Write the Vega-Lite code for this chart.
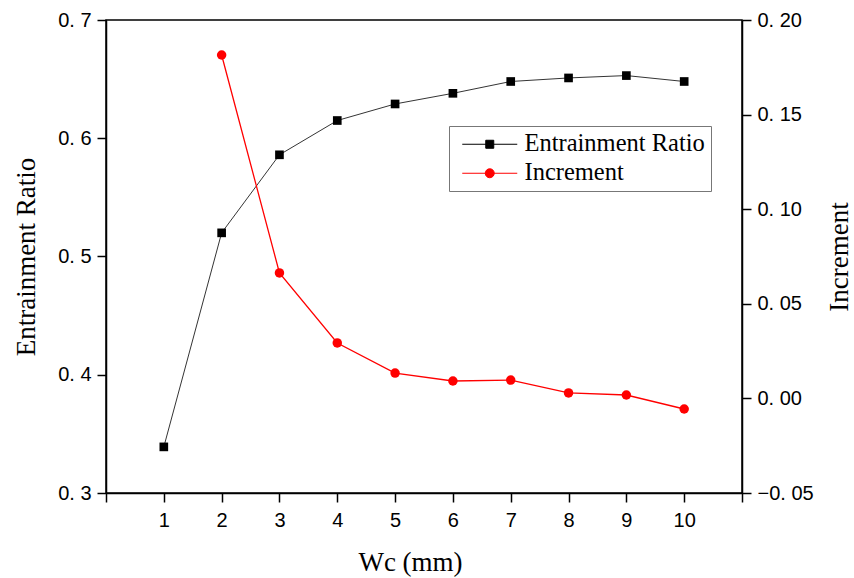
{
  "$schema": "https://vega.github.io/schema/vega-lite/v6.json",
  "width": 636,
  "height": 473,
  "autosize": {"type": "none"},
  "padding": {"left": 106, "top": 20, "right": 112, "bottom": 85},
  "background": "white",
  "config": {
    "view": {"stroke": "black", "strokeWidth": 1.5},
    "axis": {
      "grid": false,
      "domainColor": "black",
      "domainWidth": 1.5,
      "tickColor": "black",
      "tickWidth": 1.5,
      "tickSize": 9,
      "labelFont": "Liberation Sans",
      "labelFontSize": 20,
      "labelColor": "black",
      "titleFont": "Liberation Serif",
      "titleFontSize": 27,
      "titleFontWeight": "normal",
      "titleColor": "black"
    }
  },
  "data": {
    "values": [
      {"Wc": 1, "series": "Entrainment Ratio", "value": 0.339},
      {"Wc": 2, "series": "Entrainment Ratio", "value": 0.520},
      {"Wc": 3, "series": "Entrainment Ratio", "value": 0.586},
      {"Wc": 4, "series": "Entrainment Ratio", "value": 0.615},
      {"Wc": 5, "series": "Entrainment Ratio", "value": 0.629},
      {"Wc": 6, "series": "Entrainment Ratio", "value": 0.638},
      {"Wc": 7, "series": "Entrainment Ratio", "value": 0.648},
      {"Wc": 8, "series": "Entrainment Ratio", "value": 0.651},
      {"Wc": 9, "series": "Entrainment Ratio", "value": 0.653},
      {"Wc": 10, "series": "Entrainment Ratio", "value": 0.648},
      {"Wc": 2, "series": "Increment", "value": 0.1815},
      {"Wc": 3, "series": "Increment", "value": 0.0663},
      {"Wc": 4, "series": "Increment", "value": 0.0293},
      {"Wc": 5, "series": "Increment", "value": 0.0134},
      {"Wc": 6, "series": "Increment", "value": 0.0092},
      {"Wc": 7, "series": "Increment", "value": 0.0097},
      {"Wc": 8, "series": "Increment", "value": 0.0029},
      {"Wc": 9, "series": "Increment", "value": 0.0018},
      {"Wc": 10, "series": "Increment", "value": -0.0056}
    ]
  },
  "encoding": {
    "x": {
      "field": "Wc",
      "type": "quantitative",
      "scale": {"domain": [0, 11], "nice": false},
      "axis": {
        "title": "Wc (mm)",
        "values": [0, 1, 2, 3, 4, 5, 6, 7, 8, 9, 10, 11],
        "labelExpr": "datum.value >= 1 && datum.value <= 10 ? datum.label : ''",
        "labelPadding": 8,
        "titlePadding": 19,
        "titleX": 304
      }
    },
    "color": {
      "field": "series",
      "type": "nominal",
      "scale": {"domain": ["Entrainment Ratio", "Increment"], "range": ["black", "#ff0000"]},
      "legend": {
        "title": null,
        "orient": "none",
        "legendX": 343,
        "legendY": 106,
        "strokeColor": "#777777",
        "fillColor": "white",
        "padding": 6,
        "labelFont": "Liberation Serif",
        "labelFontSize": 24.5,
        "labelColor": "black",
        "labelOffset": 45,
        "labelLimit": 0,
        "rowPadding": 4,
        "symbolSize": 100,
        "symbolStrokeWidth": 1,
        "symbolOpacity": 1,
        "encode": {
          "legend": {"update": {"strokeWidth": {"value": 1}}},
          "symbols": {
            "update": {
              "shape": {"signal": "datum.value === 'Increment' ? 'M-1,0H10M3.6,0A0.9,0.9,0,1,1,5.4,0A0.9,0.9,0,1,1,3.6,0Z' : 'M-1,0H10M3.7,-0.8H5.3V0.8H3.7Z'"},
              "fill": {"signal": "datum.value === 'Increment' ? '#ff0000' : 'black'"},
              "stroke": {"signal": "datum.value === 'Increment' ? '#ff0000' : 'black'"}
            }
          }
        }
      }
    }
  },
  "layer": [
    {
      "transform": [{"filter": "datum.series === 'Entrainment Ratio'"}],
      "encoding": {
        "y": {
          "field": "value",
          "type": "quantitative",
          "scale": {"domain": [0.3, 0.7], "nice": false, "zero": false},
          "axis": {
            "title": "Entrainment Ratio",
            "orient": "left",
            "values": [0.3, 0.4, 0.5, 0.6, 0.7],
            "labelExpr": "replace(format(datum.value, '.1f'), '.', '. ')",
            "labelPadding": 6,
            "titlePadding": 17
          }
        }
      },
      "layer": [
        {"mark": {"type": "line", "strokeWidth": 0.8}},
        {"mark": {"type": "point", "shape": "square", "filled": true, "size": 75, "opacity": 1}}
      ]
    },
    {
      "transform": [{"filter": "datum.series === 'Increment'"}],
      "encoding": {
        "y": {
          "field": "value",
          "type": "quantitative",
          "scale": {"domain": [-0.05, 0.2], "nice": false, "zero": false},
          "axis": {
            "title": "Increment",
            "orient": "right",
            "titleAngle": 270,
            "values": [-0.05, 0, 0.05, 0.1, 0.15, 0.2],
            "labelExpr": "replace(format(datum.value, '.2f'), '.', '. ')",
            "labelPadding": 6,
            "titlePadding": 40
          }
        }
      },
      "layer": [
        {"mark": {"type": "line", "strokeWidth": 1.3}},
        {"mark": {"type": "point", "shape": "circle", "filled": true, "size": 90, "opacity": 1}}
      ]
    }
  ],
  "resolve": {"scale": {"y": "independent"}}
}
